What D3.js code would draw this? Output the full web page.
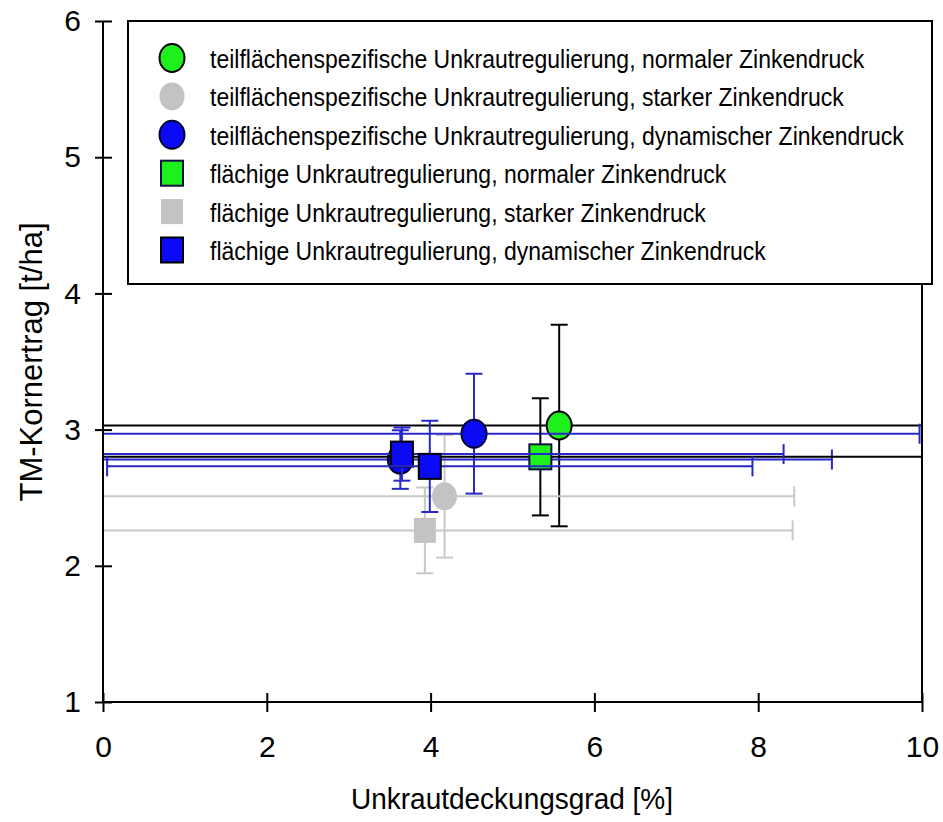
<!DOCTYPE html>
<html>
<head>
<meta charset="utf-8">
<script src="https://cdn.jsdelivr.net/npm/d3@7"></script>
<style>
  body { margin: 0; background: #fff; }
  text { font-family: "Liberation Sans", Arial, sans-serif; fill: #000; }
</style>
</head>
<body>
<div id="main"></div>
<script>
const ctx = {
    w: 943,
    h: 822,
    left: 103,
    right: 922,
    top: 21,
    bottom: 702
};

// legend entries (series 0..5)
const legendLabels = [
    "teilflächenspezifische Unkrautregulierung, normaler Zinkendruck",
    "teilflächenspezifische Unkrautregulierung, starker Zinkendruck",
    "teilflächenspezifische Unkrautregulierung, dynamischer Zinkendruck",
    "flächige Unkrautregulierung, normaler Zinkendruck",
    "flächige Unkrautregulierung, starker Zinkendruck",
    "flächige Unkrautregulierung, dynamischer Zinkendruck"
];

// one entry per plotted point, in drawing order
const pointSeries = [0, 1, 2, 2, 3, 4, 5, 5];
const xValues = [5.57, 4.17, 4.53, 3.63, 5.34, 3.93, 3.65, 3.99];
const yValues = [3.03, 2.51, 2.97, 2.78, 2.80, 2.26, 2.82, 2.73];
const xErr = [6.2, 4.27, 5.44, 5.27, 6.0, 4.49, 4.66, 3.94];
const yErr = [0.74, 0.45, 0.44, 0.215, 0.43, 0.315, 0.195, 0.335];

const xTicks = [0, 2, 4, 6, 8, 10];
const yTicks = [1, 2, 3, 4, 5, 6];

// styles per series
const seriesStyle = [
    {shape: "circle", fill: "#1ef01e", stroke: "#000", bar: "#000"},
    {shape: "circle", fill: "#c3c3c3", stroke: "none", bar: "#c8c8c8"},
    {shape: "circle", fill: "#0a0af5", stroke: "#000030", bar: "#2828c8"},
    {shape: "square", fill: "#1ef01e", stroke: "#101040", bar: "#000"},
    {shape: "square", fill: "#c3c3c3", stroke: "none", bar: "#c8c8c8"},
    {shape: "square", fill: "#0a0af5", stroke: "#000", bar: "#2828c8"}
];

function drawMarker(g, cx, cy, st) {
    if (st.shape == "circle") {
        g.append("ellipse")
            .attr("cx", cx).attr("cy", cy)
            .attr("rx", 12.5).attr("ry", 14)
            .attr("fill", st.fill)
            .attr("stroke", st.stroke)
            .attr("stroke-width", 2);
    } else {
        g.append("rect")
            .attr("x", cx - 11).attr("y", cy - 12.5)
            .attr("width", 22).attr("height", 25)
            .attr("fill", st.fill)
            .attr("stroke", st.stroke)
            .attr("stroke-width", 2);
    }
}

function createViz() {
    let svg = d3.select("#main").append("svg")
        .attr("width", ctx.w)
        .attr("height", ctx.h);

    let xScale = d3.scaleLinear().domain([0, 10]).range([ctx.left, ctx.right]);
    let yScale = d3.scaleLinear().domain([1, 6]).range([ctx.bottom, ctx.top]);

    svg.append("clipPath").attr("id", "plotClip")
        .append("rect")
        .attr("x", ctx.left).attr("y", ctx.top)
        .attr("width", ctx.right - ctx.left + 1)
        .attr("height", ctx.bottom - ctx.top);

    // right frame line
    svg.append("line")
        .attr("x1", ctx.right).attr("x2", ctx.right)
        .attr("y1", ctx.top).attr("y2", ctx.bottom)
        .attr("stroke", "#000").attr("stroke-width", 2);

    // points with error bars
    let plotG = svg.append("g").attr("clip-path", "url(#plotClip)");
    for (let i = 0; i < xValues.length; i++) {
        let st = seriesStyle[pointSeries[i]];
        let px = xScale(xValues[i]), py = yScale(yValues[i]);
        let g = plotG.append("g");
        let x0 = xScale(xValues[i] - xErr[i]), x1 = xScale(xValues[i] + xErr[i]);
        let y0 = yScale(yValues[i] - yErr[i]), y1 = yScale(yValues[i] + yErr[i]);
        let bars = [
            [x0, py, x1, py],
            [x0, py - 10, x0, py + 10],
            [x1, py - 10, x1, py + 10],
            [px, y0, px, y1],
            [px - 8.5, y0, px + 8.5, y0],
            [px - 8.5, y1, px + 8.5, y1]
        ];
        g.selectAll("line").data(bars).enter().append("line")
            .attr("x1", (d) => d[0]).attr("y1", (d) => d[1])
            .attr("x2", (d) => d[2]).attr("y2", (d) => d[3])
            .attr("stroke", st.bar)
            .attr("stroke-width", 2);
        drawMarker(g, px, py, st);
    }

    // axes
    let xAxis = d3.axisBottom(xScale).tickValues(xTicks)
        .tickFormat(d3.format("d")).tickSize(10).tickPadding(24);
    let xG = svg.append("g")
        .attr("transform", "translate(0," + ctx.bottom + ")")
        .call(xAxis);
    xG.selectAll(".tick line").attr("y1", -9).attr("stroke-width", 2);
    xG.selectAll(".tick text")
        .attr("font-size", 30)
        .attr("font-family", "Liberation Sans, Arial, sans-serif");

    let yAxis = d3.axisLeft(yScale).tickValues(yTicks)
        .tickFormat(d3.format("d")).tickSize(8).tickPadding(14);
    let yG = svg.append("g")
        .attr("transform", "translate(" + ctx.left + ",0)")
        .call(yAxis);
    yG.selectAll(".tick line").attr("x1", 9).attr("stroke-width", 2);
    yG.selectAll(".tick text")
        .attr("font-size", 30)
        .attr("font-family", "Liberation Sans, Arial, sans-serif");
    svg.selectAll(".domain").remove();
    // plain axis lines (no end ticks)
    xG.append("line").attr("x1", ctx.left).attr("x2", ctx.right)
        .attr("stroke", "#000").attr("stroke-width", 2);
    yG.append("line").attr("y1", ctx.top).attr("y2", ctx.bottom)
        .attr("stroke", "#000").attr("stroke-width", 2);

    // axis titles
    svg.append("text")
        .attr("transform", "translate(512,809) scale(1,1.08)")
        .attr("text-anchor", "middle")
        .attr("font-size", 28)
        .text("Unkrautdeckungsgrad [%]");
    svg.append("text")
        .attr("transform", "translate(42,362) rotate(-90)")
        .attr("text-anchor", "middle")
        .attr("font-size", 31)
        .text("TM-Kornertrag [t/ha]");

    // legend
    let legend = svg.append("g").attr("id", "legend");
    legend.append("rect")
        .attr("x", 128).attr("y", 21)
        .attr("width", 804).attr("height", 263)
        .attr("fill", "#fff")
        .attr("stroke", "#000").attr("stroke-width", 2);
    legendLabels.forEach((lab, i) => {
        let cy = 58 + i * 38.4;
        drawMarker(legend, 172, cy, seriesStyle[i]);
        legend.append("text")
            .attr("transform", "translate(210," + (cy + 10) + ") scale(1,1.12)")
            .attr("font-size", 23)
            .text(lab);
    });
}

createViz();
</script>
</body>
</html>
